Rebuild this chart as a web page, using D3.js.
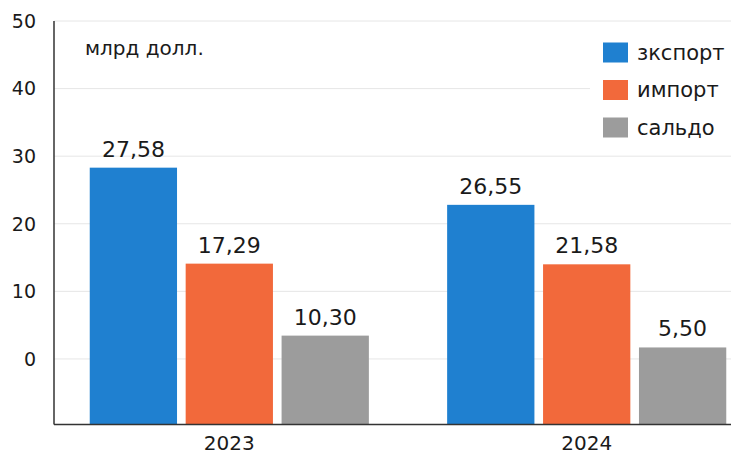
<script src="https://d3js.org/d3.v7.min.js"></script>
<style>
  body{ margin:0; background:#fff; }
  text{ font-family: "DejaVu Sans", sans-serif; fill:#1a1a1a; }
</style>
<body>
<script>
    var width = 731;
    var height = 455;

    // data
    var years = ["2023", "2024"];
    var series = ["зкспорт", "импорт", "сальдо"];
    var colors = ["#1f80d0", "#f2693b", "#9c9c9c"];
    // bar heights as drawn
    var exportBars = [28.3, 22.8];
    var importBars = [14.1, 14.0];
    var saldoBars = [3.45, 1.7];
    // value labels as printed
    var exportLabels = ["27,58", "26,55"];
    var importLabels = ["17,29", "21,58"];
    var saldoLabels = ["10,30", "5,50"];
    var yTicks = [0, 10, 20, 30, 40, 50];

    var bars = [exportBars, importBars, saldoBars];
    var labels = [exportLabels, importLabels, saldoLabels];

    var svg = d3.select("body")
        .append("svg")
        .attr("width", width)
        .attr("height", height);

    var y = d3.scaleLinear().domain([-9.7, 50]).range([424.5, 21]);
    var x = d3.scaleBand().domain(years).range([54, 762])
        .paddingInner(0.219).paddingOuter(0.1);
    var xs = d3.scaleBand().domain(series).range([0, x.bandwidth()])
        .paddingInner(0.09).paddingOuter(0);

    // gridlines
    svg.selectAll(".grid")
        .data(yTicks)
        .enter().append("line")
        .attr("x1", 54).attr("x2", width)
        .attr("y1", function(d){ return y(d); })
        .attr("y2", function(d){ return y(d); })
        .attr("stroke", "#e6e6e6")
        .attr("stroke-width", 1);

    // tick labels
    svg.selectAll(".tick")
        .data(yTicks)
        .enter().append("text")
        .attr("x", 36)
        .attr("y", function(d){ return y(d); })
        .attr("dy", "0.36em")
        .attr("text-anchor", "end")
        .style("font-size", "19px")
        .text(function(d){ return d; });

    // bars
    var rows = [];
    years.forEach(function(yr, i){
        series.forEach(function(s, j){
            rows.push({year: yr, s: s, v: bars[j][i], label: labels[j][i], c: colors[j]});
        });
    });

    svg.selectAll(".bar")
        .data(rows)
        .enter().append("rect")
        .attr("x", function(d){ return x(d.year) + xs(d.s); })
        .attr("width", xs.bandwidth())
        .attr("y", function(d){ return y(d.v); })
        .attr("height", function(d){ return y.range()[0] - y(d.v); })
        .attr("fill", function(d){ return d.c; });

    svg.selectAll(".val")
        .data(rows)
        .enter().append("text")
        .attr("x", function(d){ return x(d.year) + xs(d.s) + xs.bandwidth() / 2; })
        .attr("y", function(d){ return y(d.v) - 11; })
        .attr("text-anchor", "middle")
        .style("font-size", "22px")
        .text(function(d){ return d.label; });

    // axes lines
    svg.append("line")
        .attr("x1", 54).attr("x2", 54)
        .attr("y1", y(50)).attr("y2", y.range()[0])
        .attr("stroke", "#333").attr("stroke-width", 1.5);
    svg.append("line")
        .attr("x1", 54).attr("x2", width)
        .attr("y1", y.range()[0]).attr("y2", y.range()[0])
        .attr("stroke", "#333").attr("stroke-width", 1.5);

    // year labels
    svg.selectAll(".year")
        .data(years)
        .enter().append("text")
        .attr("x", function(d){ return x(d) + x.bandwidth() / 2; })
        .attr("y", 450)
        .attr("text-anchor", "middle")
        .style("font-size", "20px")
        .text(function(d){ return d; });

    // unit
    svg.append("text")
        .attr("x", 85).attr("y", 55)
        .style("font-size", "20px")
        .text("млрд долл.");

    // legend
    svg.append("rect")
        .attr("x", 590).attr("y", 30)
        .attr("width", 141).attr("height", 118)
        .attr("fill", "#fff");

    var legend = svg.selectAll(".leg")
        .data(series)
        .enter().append("g")
        .attr("transform", function(d, i){ return "translate(603," + (42.5 + i * 37.5) + ")"; });
    legend.append("rect")
        .attr("width", 25).attr("height", 20)
        .attr("fill", function(d, i){ return colors[i]; });
    legend.append("text")
        .attr("x", 34).attr("y", 10)
        .attr("dy", "0.35em")
        .style("font-size", "21px")
        .text(function(d){ return d; });
</script>
</body>
